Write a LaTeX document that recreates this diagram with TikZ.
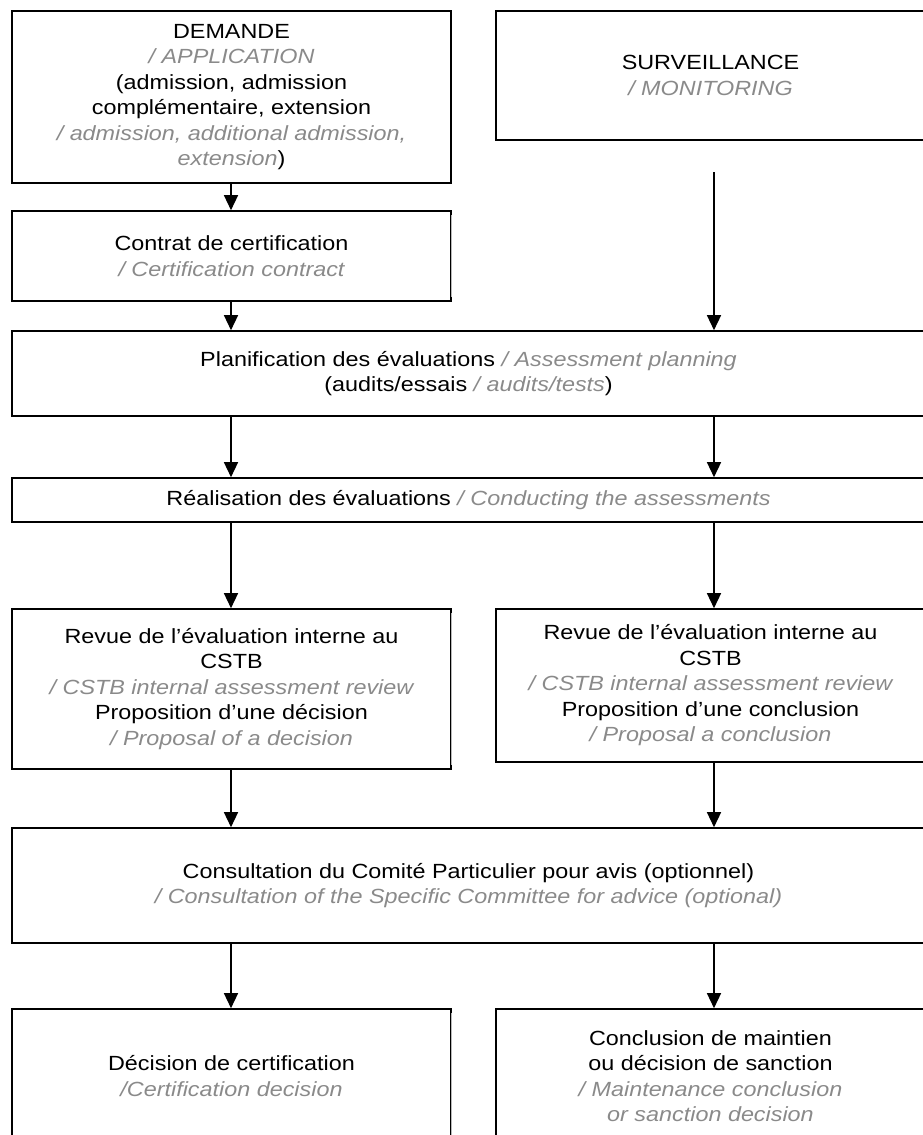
\documentclass[tikz,border=0pt]{standalone}
\usepackage{fontspec}
\setmainfont[FakeStretch=1.14]{Liberation Sans}
\usetikzlibrary{arrows.meta}
\definecolor{gt}{RGB}{138,138,138}
\definecolor{sidegray}{RGB}{185,185,185}
\newcommand{\en}[1]{\textcolor{gt}{\itshape #1}}
\begin{document}
\begin{tikzpicture}[x=1pt,y=-1pt,
  box/.style={draw=black, line width=1.6pt, rectangle, inner sep=0pt, align=center,
    font=\fontsize{20.5}{25.5}\selectfont, text=black},
  arr/.style={line width=1.4pt, -{Triangle[width=14pt,length=15pt]}},
  softside/.style={line width=1.2pt, draw=sidegray}]
\useasboundingbox (0,0) rectangle (923,1135);
\clip (0,0) rectangle (923,1135);
\node[box, minimum width=439pt, minimum height=172pt] (dem) at (231.5,97)
  {DEMANDE\\ \en{/ APPLICATION}\\ (admission, admission\\ complémentaire, extension\\ \en{/ admission, additional admission,}\\ \en{extension})};
\node[box, minimum width=429pt, minimum height=129pt] (surv) at (710.5,75.5)
  {SURVEILLANCE\\ \en{/ MONITORING}};
\node[box, minimum width=439pt, minimum height=90pt] (con) at (231.5,256)
  {Contrat de certification\\ \en{/ Certification contract}};
\node[box, minimum width=913pt, minimum height=85pt] (plan) at (468.5,373.5)
  {Planification des évaluations \en{/ Assessment planning}\\ (audits/essais \en{/ audits/tests})};
\node[box, minimum width=913pt, minimum height=44pt] (real) at (468.5,500)
  {Réalisation des évaluations \en{/ Conducting the assessments}};
\node[box, minimum width=439pt, minimum height=160pt] (revl) at (231.5,689)
  {Revue de l’évaluation interne au\\ CSTB\\ \en{/ CSTB internal assessment review}\\ Proposition d’une décision\\ \en{/ Proposal of a decision}};
\node[box, minimum width=429pt, minimum height=153pt] (revr) at (710.5,685.5)
  {Revue de l’évaluation interne au\\ CSTB\\ \en{/ CSTB internal assessment review}\\ Proposition d’une conclusion\\ \en{/ Proposal a conclusion}};
\node[box, minimum width=913pt, minimum height=115pt] (cons) at (468.5,885.5)
  {Consultation du Comité Particulier pour avis (optionnel)\\ \en{/ Consultation of the Specific Committee for advice (optional)}};
\node[box, minimum width=439pt, minimum height=134pt] (decl) at (231.5,1076)
  {Décision de certification\\ \en{/Certification decision}};
\node[box, minimum width=429pt, minimum height=134pt] (decr) at (710.5,1076)
  {Conclusion de maintien\\ ou décision de sanction\\ \en{/ Maintenance conclusion}\\ \en{or sanction decision}};
% lighter right sides
\foreach \n in {con,revl,decl}{
  \draw[white, line width=2.2pt] ([yshift=-5pt]\n.north east) -- ([yshift=5pt]\n.south east);
  \draw[softside] ([yshift=-5pt]\n.north east) -- ([yshift=5pt]\n.south east);
}
\coordinate (sr) at (714,172);
\coordinate (sl) at (231,172);
\draw[arr] (dem.south -| sl) -- (con.north -| sl);
\draw[arr] (sr) -- (plan.north -| sr);
\draw[arr] (con.south -| sl) -- (plan.north -| sl);
\draw[arr] (plan.south -| sl) -- (real.north -| sl);
\draw[arr] (plan.south -| sr) -- (real.north -| sr);
\draw[arr] (real.south -| sl) -- (revl.north -| sl);
\draw[arr] (real.south -| sr) -- (revr.north -| sr);
\draw[arr] (revl.south -| sl) -- (cons.north -| sl);
\draw[arr] (revr.south -| sr) -- (cons.north -| sr);
\draw[arr] (cons.south -| sl) -- (decl.north -| sl);
\draw[arr] (cons.south -| sr) -- (decr.north -| sr);
\end{tikzpicture}
\end{document}
